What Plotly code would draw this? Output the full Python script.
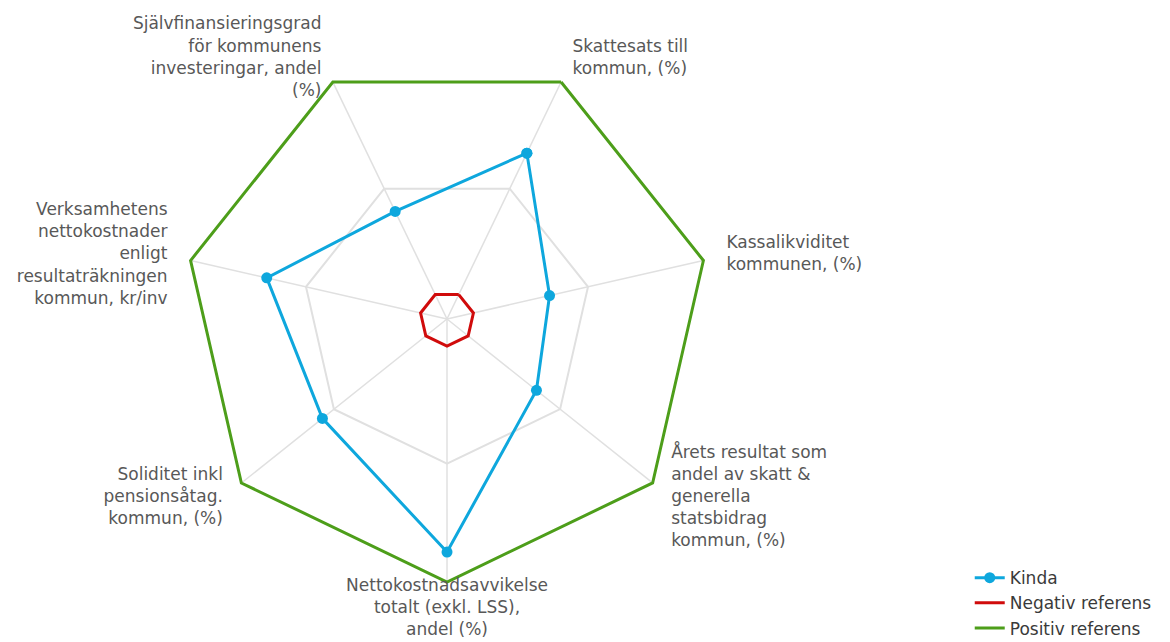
import plotly.graph_objects as go

categories = [
    "Skattesats till<br>kommun, (%)",
    "Kassalikviditet<br>kommunen, (%)",
    "Årets resultat som<br>andel av skatt &<br>generella<br>statsbidrag<br>kommun, (%)",
    "Nettokostnadsavvikelse<br>totalt (exkl. LSS),<br>andel (%)",
    "Soliditet inkl<br>pensionsåtag.<br>kommun, (%)",
    "Verksamhetens<br>nettokostnader<br>enligt<br>resultaträkningen<br>kommun, kr/inv",
    "Självfinansieringsgrad<br>för kommunens<br>investeringar, andel<br>(%)",
]
kinda = [0.70, 0.40, 0.435, 0.886, 0.606, 0.703, 0.454]
negativ = [0.103] * 7
positiv = [1.0] * 7
grid_ticks = [0.55]
axis_max = 1.0

# label placement (style only)
label_r = [1.1, 1.09, 1.09, 0.985, 1.09, 1.09, 1.1]
label_pos = ["middle right", "middle right", "middle right", "bottom center",
             "middle left", "middle left", "middle left"]

def closed(v):
    return list(v) + [v[0]]

theta = closed(categories)
RMAX = 1.15
R = 263 * RMAX
cx, cy = 447 - 8, 318 - 7

fig = go.Figure()
# spokes
for c in categories:
    fig.add_trace(go.Scatterpolar(
        r=[0, axis_max], theta=[c, c], mode="lines", showlegend=False,
        line=dict(color="#e0e0e0", width=1.5), hoverinfo="skip"))
fig.add_trace(go.Scatterpolar(
    r=closed(kinda), theta=theta, name="Kinda", mode="lines+markers",
    line=dict(color="#0ea7dd", width=3), marker=dict(size=11, color="#0ea7dd"),
    hoverinfo="skip"))
fig.add_trace(go.Scatterpolar(
    r=closed(negativ), theta=theta, name="Negativ referens", mode="lines",
    line=dict(color="#d00b0b", width=3), hoverinfo="skip"))
fig.add_trace(go.Scatterpolar(
    r=closed(positiv), theta=theta, name="Positiv referens", mode="lines",
    line=dict(color="#4d9e1a", width=3), hoverinfo="skip"))
fig.add_trace(go.Scatterpolar(
    r=label_r, theta=categories, mode="text", text=categories,
    textposition=label_pos, showlegend=False, hoverinfo="skip",
    textfont=dict(family="DejaVu Sans", size=17, color="#585858")))

fig.update_layout(
    width=1170, height=642,
    paper_bgcolor="white", plot_bgcolor="white",
    margin=dict(l=0, r=0, t=0, b=0),
    font=dict(family="DejaVu Sans", size=16, color="#5a5a5a"),
    polar=dict(
        domain=dict(x=[(cx - R) / 1170, (cx + R) / 1170],
                    y=[1 - (cy + R) / 642, 1 - (cy - R) / 642]),
        gridshape="linear",
        bgcolor="rgba(0,0,0,0)",
        radialaxis=dict(range=[0, RMAX], tickvals=grid_ticks, showticklabels=False,
                        gridcolor="#e0e0e0", gridwidth=1.5, showline=False, ticks=""),
        angularaxis=dict(direction="clockwise", rotation=64.29,
                         showgrid=False, showline=False,
                         ticks="", showticklabels=False),
    ),
    legend=dict(x=0.822, y=0.006, xanchor="left", yanchor="bottom",
                font=dict(size=17, color="#3a3a3a"), tracegroupgap=0,
                bgcolor="rgba(0,0,0,0)"),
    showlegend=True,
)

fig.write_html("out.html")
